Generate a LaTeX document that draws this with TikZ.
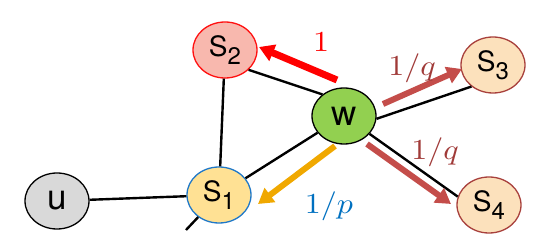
\documentclass[tikz,border=0pt]{standalone}
\usepackage{graphicx}
\usepackage{fontspec}
\setmainfont{TeX Gyre Heros}
\usetikzlibrary{shapes.geometric,arrows.meta}

\definecolor{sTwoFill}{HTML}{F8B8AE}
\definecolor{sTwoLine}{HTML}{FF1010}
\definecolor{sOneFill}{HTML}{FFE194}
\definecolor{sOneLine}{HTML}{1F78C8}
\definecolor{sFarFill}{HTML}{FCE1BC}
\definecolor{sFarLine}{HTML}{A8403C}
\definecolor{wFill}{HTML}{92D050}
\definecolor{uFill}{HTML}{D9D9D9}
\definecolor{backArrow}{HTML}{FF0000}
\definecolor{outArrow}{HTML}{C44D4A}
\definecolor{inArrow}{HTML}{F0A800}
\definecolor{pLabel}{HTML}{0070C0}
\definecolor{qLabel}{HTML}{A03A38}

\newcommand{\nodesub}[1]{\raisebox{-8pt}{\fontsize{24}{24}\selectfont #1}}
\newcommand{\weighttext}[1]{\scalebox{3.2}[2.9]{$#1$}}

\begin{document}
\begin{tikzpicture}[x=1pt,y=-1pt,
    vertex/.style={ellipse, draw, line width=1.3pt, minimum width=64pt,
        minimum height=56pt, inner sep=0pt},
    bigletter/.style={font=\fontsize{35}{35}\selectfont},
    sletter/.style={font=\fontsize{28}{28}\selectfont},
    edge/.style={line width=2.4pt},
    walk/.style={line width=6pt, -{Triangle[length=15pt,width=17pt]}},
    weight/.style={inner sep=0pt}]
    \useasboundingbox (0,0) rectangle (539,243);

    % Vertices of the graph
    \node[vertex, bigletter, fill=uFill] (u) at (57,201) {u};
    \node[vertex, sletter, fill=sOneFill, draw=sOneLine] (s1) at (219,195) {S\nodesub{1}};
    \node[vertex, sletter, fill=sTwoFill, draw=sTwoLine] (s2) at (225,50) {S\nodesub{2}};
    \node[vertex, bigletter, fill=wFill] (w) at (344,116) {w};
    \node[vertex, sletter, fill=sFarFill, draw=sFarLine] (s3) at (493,65) {S\nodesub{3}};
    \node[vertex, sletter, fill=sFarFill, draw=sFarLine] (s4) at (489,205) {S\nodesub{4}};
    \coordinate (s1tail) at (186,230);

    % Edges
    \draw[edge] (u) -- (s1);
    \draw[edge] (s1) -- (s1tail);
    \draw[edge] (s2) -- (s1);
    \draw[edge] (s2.-40) -- (w.135);
    \draw[edge] (s1) -- (w);
    \draw[edge] (w.-5) -- (s3.225);
    \draw[edge] (w.-35) -- (s4.165);

    % Transition weights of the walk from w
    \coordinate (r0) at (337,80);  \coordinate (r1) at (259,47);
    \coordinate (a0) at (383,104); \coordinate (a1) at (462,69);
    \coordinate (b0) at (367,144); \coordinate (b1) at (451,204);
    \coordinate (c0) at (335,146); \coordinate (c1) at (258,204);

    \draw[walk, backArrow, line width=7pt] (r0) -- (r1);
    \draw[walk, outArrow] (a0) -- (a1);
    \draw[walk, outArrow] (b0) -- (b1);
    \draw[walk, inArrow] (c0) -- (c1);

    \node[weight, text=backArrow] (lr) at (321,42) {\weighttext{1}};
    \node[weight, text=qLabel] (la) at (412,68) {\weighttext{1/q}};
    \node[weight, text=qLabel] (lb) at (435,152) {\weighttext{1/q}};
    \node[weight, text=pLabel] (lc) at (329,206) {\weighttext{1/p}};
\end{tikzpicture}
\end{document}
